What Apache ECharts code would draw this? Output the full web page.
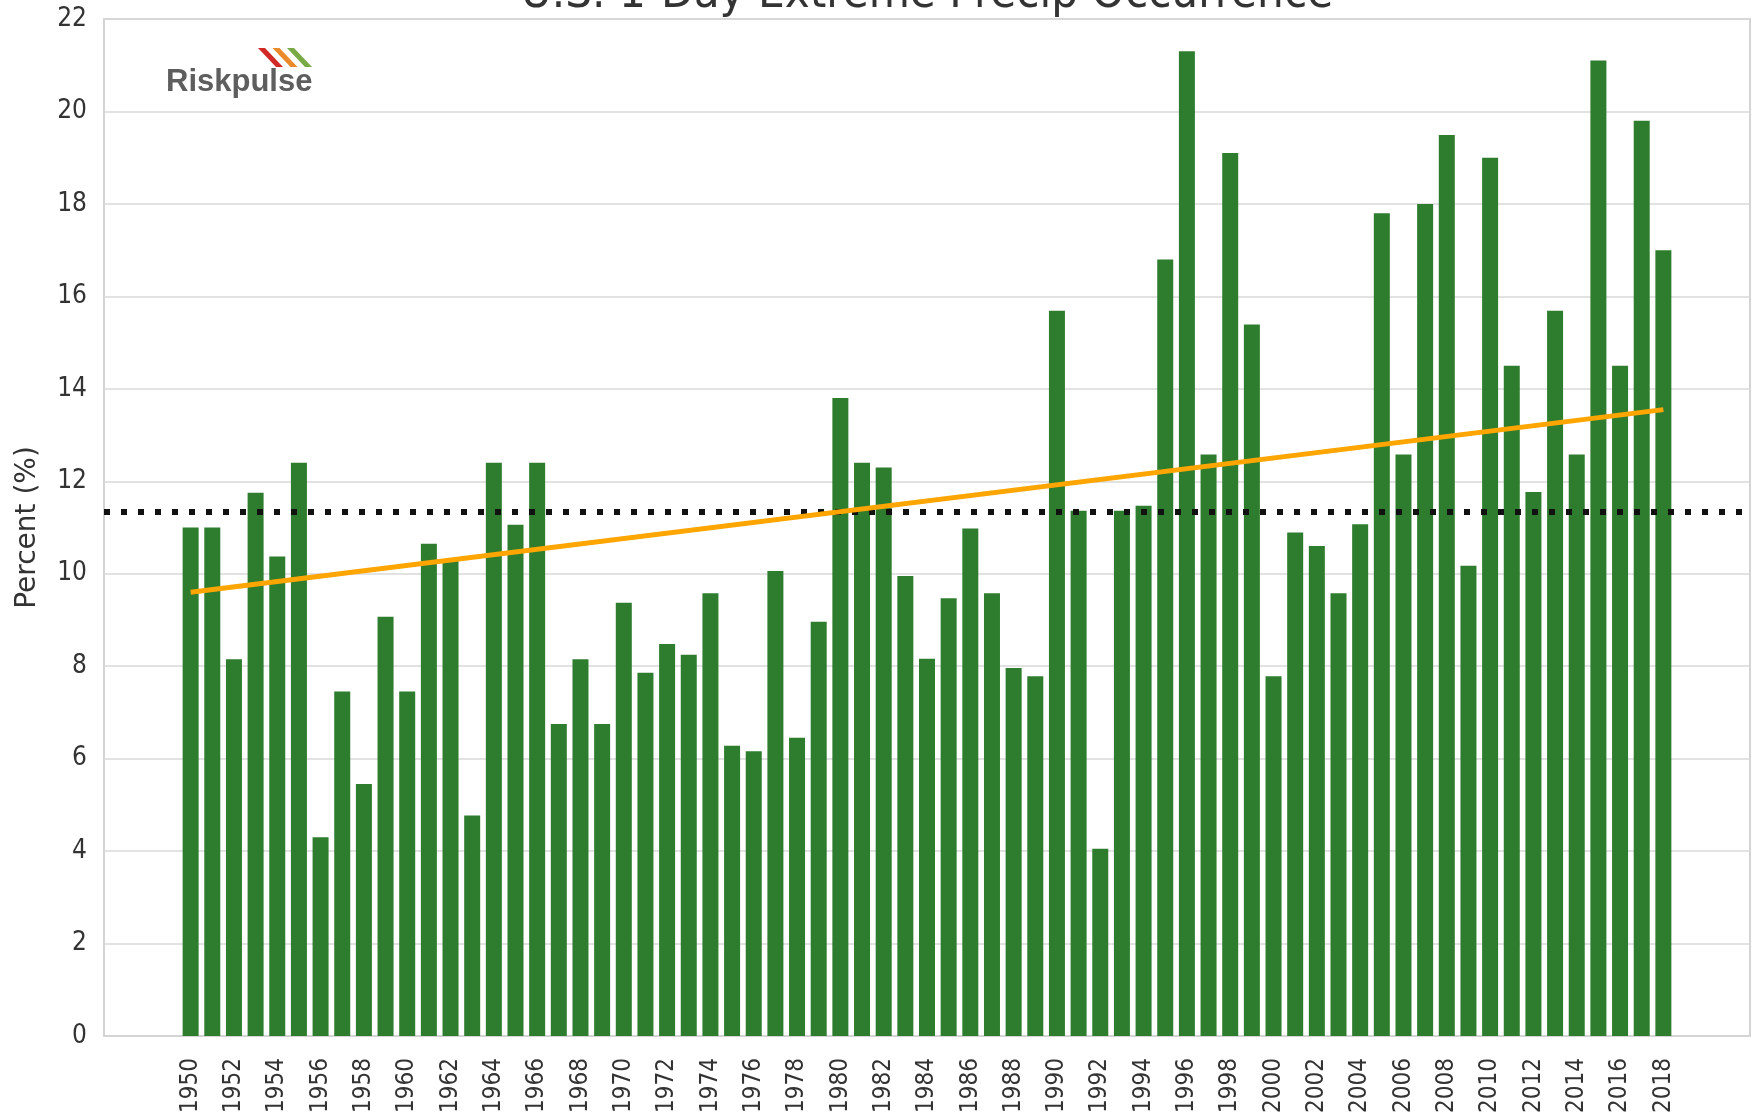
<!DOCTYPE html>
<html>
<head>
<meta charset="utf-8">
<title>U.S. 1-Day Extreme Precip Occurrence</title>
<script src="https://cdn.jsdelivr.net/npm/echarts@6/dist/echarts.min.js"></script>
<style>
  html, body { margin: 0; padding: 0; background: #fff; }
  #chart { width: 1756px; height: 1116px; }
</style>
</head>
<body>
<div id="chart"></div>
<script>
const years = [
  1950, 1951, 1952, 1953, 1954, 1955, 1956, 1957, 1958, 1959,
  1960, 1961, 1962, 1963, 1964, 1965, 1966, 1967, 1968, 1969,
  1970, 1971, 1972, 1973, 1974, 1975, 1976, 1977, 1978, 1979,
  1980, 1981, 1982, 1983, 1984, 1985, 1986, 1987, 1988, 1989,
  1990, 1991, 1992, 1993, 1994, 1995, 1996, 1997, 1998, 1999,
  2000, 2001, 2002, 2003, 2004, 2005, 2006, 2007, 2008, 2009,
  2010, 2011, 2012, 2013, 2014, 2015, 2016, 2017, 2018
]

// percent of U.S. area with 1-day extreme precip
const percent = [
  11.0, 11.0, 8.15, 11.75, 10.37, 12.4, 4.3, 7.45, 5.45, 9.07,
  7.45, 10.65, 10.3, 4.77, 12.4, 11.06, 12.4, 6.75, 8.15, 6.75,
  9.37, 7.86, 8.48, 8.25, 9.58, 6.28, 6.16, 10.06, 6.45, 8.96,
  13.8, 12.4, 12.3, 9.95, 8.16, 9.47, 10.98, 9.58, 7.96, 7.78,
  15.69, 11.36, 4.05, 11.36, 11.47, 16.8, 21.3, 12.58, 19.1, 15.39,
  7.78, 10.89, 10.6, 9.58, 11.07, 17.8, 12.58, 18.0, 19.49, 10.17,
  19.0, 14.5, 11.77, 15.69, 12.58, 21.1, 14.5, 19.8, 17.0
]

// linear trend end points and long-term mean
const trendYears = [1950, 2018]
const trendValues = [9.6, 13.55]
const meanValue = 11.35

const FONT = '"DejaVu Sans", sans-serif'
const FONT_NARROW = '"DejaVu Sans Condensed", "DejaVu Sans", sans-serif'

const chart = echarts.init(document.getElementById('chart'))

const option = {
  backgroundColor: '#fff',
  animation: false,
  title: {
    text: 'U.S. 1-Day Extreme Precip Occurrence',
    left: 927,
    top: -29,
    textAlign: 'center',
    padding: 0,
    textStyle: { fontFamily: FONT_NARROW, fontSize: 47, fontWeight: 'normal', color: '#333' },
  },
  grid: {
    left: 104, right: 6, top: 19, bottom: 80,
    show: true,
    borderColor: '#d4d4d4',
    borderWidth: 2,
  },
  xAxis: {
    type: 'value',
    min: 1946,
    max: 2022,
    interval: 2,
    axisLine: { show: true, lineStyle: { color: '#d4d4d4', width: 2 } },
    axisTick: { show: false },
    splitLine: { show: false },
    axisLabel: {
      rotate: 90,
      margin: 22,
      fontFamily: FONT_NARROW,
      fontSize: 24,
      color: '#333',
      formatter: v => (v >= years[0] && v <= years[years.length - 1]) ? String(v) : '',
    },
  },
  yAxis: {
    type: 'value',
    min: 0,
    max: 22,
    interval: 2,
    name: 'Percent (%)',
    nameLocation: 'middle',
    nameGap: 62,
    nameTextStyle: { fontFamily: FONT, fontSize: 28, color: '#333' },
    axisLine: { show: false },
    axisTick: { show: false },
    axisLabel: { margin: 17, fontFamily: FONT_NARROW, fontSize: 26, color: '#333' },
    splitLine: { lineStyle: { color: '#d9d9d9', width: 1.5 } },
  },
  series: [
    {
      type: 'bar',
      data: years.map((y, i) => [y, percent[i]]),
      barWidth: 16,
      itemStyle: { color: '#2e7d2e' },
      markLine: {
        silent: true,
        symbol: 'none',
        label: { show: false },
        lineStyle: { color: '#111', type: [6, 11], width: 6 },
        data: [{ yAxis: meanValue }],
      },
    },
    {
      type: 'line',
      data: trendYears.map((y, i) => [y, trendValues[i]]),
      showSymbol: false,
      lineStyle: { color: '#ffa500', width: 5 },
      z: 5,
    },
  ],
  graphic: [
    {
      type: 'text',
      left: 166,
      top: 67,
      style: { text: 'Riskpulse', font: '600 31px "Liberation Sans", sans-serif', fill: '#5e5e5e' },
    },
    {
      type: 'polygon',
      shape: { points: [[258, 48], [265, 48], [283, 67], [276, 67]] },
      style: { fill: '#d12a26' },
    },
    {
      type: 'polygon',
      shape: { points: [[272.5, 48], [279.5, 48], [297.5, 67], [290.5, 67]] },
      style: { fill: '#ea8a2c' },
    },
    {
      type: 'polygon',
      shape: { points: [[287, 48], [294, 48], [312, 67], [305, 67]] },
      style: { fill: '#79aa45' },
    },
  ],
}

chart.setOption(option)
window.addEventListener('resize', () => chart.resize())
</script>
</body>
</html>
